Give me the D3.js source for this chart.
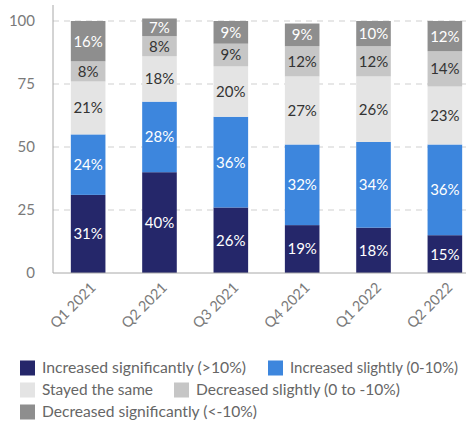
<!DOCTYPE html>
<html>
<head>
<meta charset="utf-8">
<script src="https://cdn.jsdelivr.net/npm/d3@7"></script>
<style>
  html, body { margin: 0; padding: 0; background: #fff; }
  svg { display: block; font-family: Lato, "Open Sans", sans-serif; }
</style>
</head>
<body>
<svg id="chart" width="466" height="425"></svg>
<script>
// Quarters on the x axis
const quarters = ["Q1 2021", "Q2 2021", "Q3 2021", "Q4 2021", "Q1 2022", "Q2 2022"];

// Share of respondents (%) per answer, per quarter
const increasedSignificantly = [31, 40, 26, 19, 18, 15];
const increasedSlightly      = [24, 28, 36, 32, 34, 36];
const stayedSame             = [21, 18, 20, 27, 26, 23];
const decreasedSlightly      = [8, 8, 9, 12, 12, 14];
const decreasedSignificantly = [16, 7, 9, 9, 10, 12];

const seriesNames = [
  "Increased significantly (>10%)",
  "Increased slightly (0-10%)",
  "Stayed the same",
  "Decreased slightly (0 to -10%)",
  "Decreased significantly (<-10%)"
];
const seriesKeys = ["incSig", "incSl", "same", "decSl", "decSig"];
const yTicks = [0, 25, 50, 75, 100];

const colors = ["#25276a", "#3d86dd", "#e4e4e4", "#c6c6c6", "#8e8e8e"];
const labelColors = ["#ffffff", "#ffffff", "#333333", "#333333", "#ffffff"];

const rows = quarters.map((q, i) => ({
  quarter: q,
  incSig: increasedSignificantly[i],
  incSl: increasedSlightly[i],
  same: stayedSame[i],
  decSl: decreasedSlightly[i],
  decSig: decreasedSignificantly[i]
}));

const svg = d3.select("#chart");
const axisX = 53, axisBottom = 273, yTop = 21, rightEdge = 466;

const x = d3.scaleBand().domain(quarters).range([axisX, 480]).paddingInner(0.515).paddingOuter(0.25);
const y = d3.scaleLinear().domain([0, 100]).range([axisBottom, yTop]);

// Dashed gridlines
svg.append("g")
  .selectAll("line")
  .data(yTicks.filter(t => t > 0))
  .join("line")
  .attr("x1", axisX).attr("x2", rightEdge)
  .attr("y1", d => y(d)).attr("y2", d => y(d))
  .attr("stroke", "#cfcfcf").attr("stroke-width", 1)
  .attr("stroke-dasharray", "6,5");

// Y tick labels
const yAxis = svg.append("g")
  .attr("transform", `translate(${axisX},0)`)
  .call(d3.axisLeft(y).tickValues(yTicks).tickSize(0).tickPadding(18));
yAxis.select(".domain").remove();
yAxis.selectAll("text")
  .attr("fill", "#7a7a7a").style("font-size", "15px").style("font-family", "Lato, sans-serif");

// Stacked bars
const stacked = d3.stack().keys(seriesKeys)(rows);

const layers = svg.append("g").selectAll("g")
  .data(stacked)
  .join("g")
  .attr("fill", (d, i) => colors[i]);

layers.selectAll("rect")
  .data(d => d)
  .join("rect")
  .attr("x", d => x(d.data.quarter))
  .attr("width", x.bandwidth())
  .attr("y", d => y(d[1]))
  .attr("height", d => y(d[0]) - y(d[1]));

// Segment value labels
stacked.forEach((layer, i) => {
  svg.append("g").selectAll("text")
    .data(layer)
    .join("text")
    .attr("x", d => x(d.data.quarter) + x.bandwidth() / 2)
    .attr("y", d => (y(d[0]) + y(d[1])) / 2)
    .attr("dy", "0.36em")
    .attr("text-anchor", "middle")
    .attr("fill", labelColors[i])
    .style("font-size", "15px")
    .text(d => (d[1] - d[0]) + "%");
});

// Axis lines
svg.append("line")
  .attr("x1", axisX).attr("x2", axisX).attr("y1", 5).attr("y2", axisBottom)
  .attr("stroke", "#a8a8a8").attr("stroke-width", 1);
svg.append("line")
  .attr("x1", axisX).attr("x2", rightEdge).attr("y1", axisBottom).attr("y2", axisBottom)
  .attr("stroke", "#a8a8a8").attr("stroke-width", 1);

// X tick labels, rotated
const xAxis = svg.append("g")
  .attr("transform", `translate(0,${axisBottom})`)
  .call(d3.axisBottom(x).tickSize(0).tickPadding(0));
xAxis.select(".domain").remove();
xAxis.selectAll("text")
  .attr("transform", "translate(5,12) rotate(-45)")
  .attr("text-anchor", "end")
  .attr("dy", "0.35em")
  .attr("y", 0)
  .attr("fill", "#7a7a7a")
  .style("font-size", "14.5px")
  .style("font-family", "Lato, sans-serif");

// Legend: three rows, text fitted to a fixed run length
const legendItems = [
  { i: 0, x: 20, y: 368, w: 204 },
  { i: 1, x: 268, y: 368, w: 168 },
  { i: 2, x: 20, y: 390, w: 111 },
  { i: 3, x: 174, y: 390, w: 204 },
  { i: 4, x: 20, y: 412, w: 215 }
];
const legend = svg.append("g").selectAll("g")
  .data(legendItems)
  .join("g")
  .attr("transform", d => `translate(${d.x},${d.y})`);
legend.append("rect")
  .attr("x", 0).attr("y", -7.5).attr("width", 15).attr("height", 15)
  .attr("fill", d => colors[d.i]);
legend.append("text")
  .attr("x", 22).attr("y", 0).attr("dy", "0.35em")
  .attr("fill", "#666666")
  .style("font-size", "15.5px")
  .attr("textLength", d => d.w)
  .attr("lengthAdjust", "spacingAndGlyphs")
  .text(d => seriesNames[d.i]);
</script>
</body>
</html>
